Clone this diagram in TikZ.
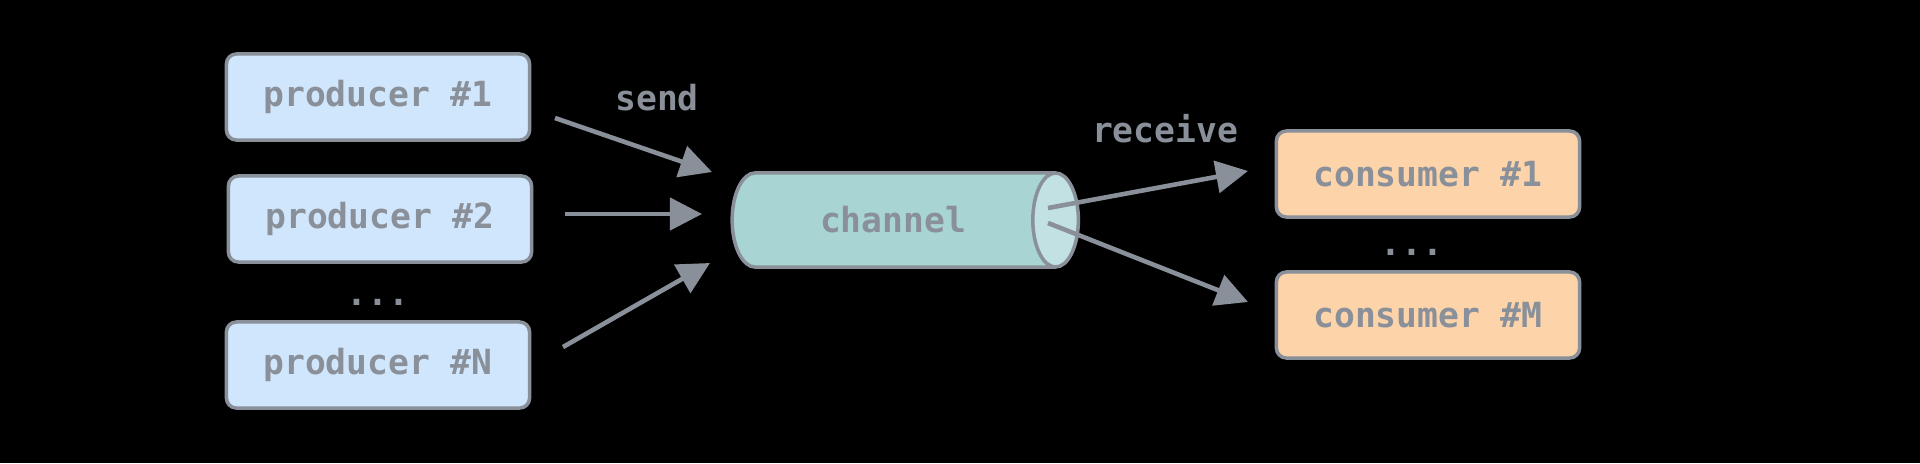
\documentclass[tikz,border=0pt]{standalone}
\usepackage{fontspec}
\setmonofont{DejaVu Sans Mono}
\usetikzlibrary{shapes.geometric,arrows.meta}
\definecolor{edge}{RGB}{138,144,153}
\definecolor{prodfill}{RGB}{208,230,252}
\definecolor{consfill}{RGB}{253,211,170}
\definecolor{chanfill}{RGB}{168,212,211}
\definecolor{chanend}{RGB}{193,225,227}

\begin{document}
\begin{tikzpicture}[x=0.01cm,y=-0.01cm,
  txt/.style={font=\fontsize{9.85}{12}\selectfont\ttfamily\bfseries,text=edge},
  blk/.style={txt,draw=edge,line width=1pt,rounded corners=1mm,minimum width=3.03cm,minimum height=0.86cm,inner sep=0pt},
  prod/.style={blk,fill=prodfill},
  cons/.style={blk,fill=consfill},
  chan/.style={txt,cylinder,draw=edge,line width=1pt,cylinder uses custom fill,cylinder body fill=chanfill,cylinder end fill=chanend,minimum height=3.46cm,minimum width=0.94cm,aspect=1.7,inner sep=0pt},
  arr/.style={-{Triangle[length=3.2mm,width=3.2mm]},draw=edge,line width=1.3pt}]
  \fill[black] (0,0) rectangle (1920,463);
  \node[prod] (p1) at (378,97) {producer \#1};
  \node[prod] (p2) at (380,219) {producer \#2};
  \node[txt,anchor=base] (pdots) at (378,305) {...};
  \node[prod] (pn) at (378,365) {producer \#N};
  \node[chan] (ch) at (893,220) {channel};
  \node[cons] (c1) at (1428,174) {consumer \#1};
  \node[txt,anchor=base] (cdots) at (1412,255) {...};
  \node[cons] (cm) at (1428,315) {consumer \#M};
  \node[txt,anchor=base] (send) at (657,110) {send};
  \node[txt,anchor=base] (recv) at (1165,142) {receive};
  % arrow ends
  \coordinate (s1) at (555,118); \coordinate (t1) at (712,172);
  \coordinate (s2) at (565,214); \coordinate (t2) at (702,214);
  \coordinate (s3) at (563,347); \coordinate (t3) at (710,263);
  \coordinate (r0) at (1048,208); \coordinate (r1) at (1248,171);
  \coordinate (q0) at (1048,223); \coordinate (q1) at (1248,302);
  \draw[arr] (s1)--(t1); \draw[arr] (s2)--(t2); \draw[arr] (s3)--(t3);
  \draw[arr] (r0)--(r1); \draw[arr] (q0)--(q1);
\end{tikzpicture}
\end{document}
